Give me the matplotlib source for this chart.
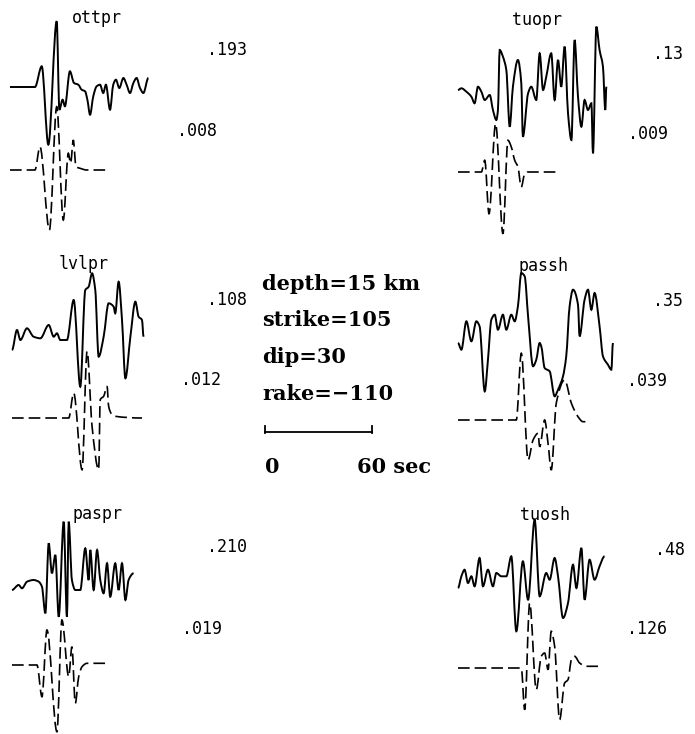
import numpy as np
import matplotlib
matplotlib.use("Agg")
import matplotlib.pyplot as plt
from matplotlib.path import Path
from matplotlib.patches import PathPatch

# waveforms: (time in s from trace start, amplitude, up = +)
ottpr_obs = [(0, 0), (14.0, 0), (17.8, 20.7), (21.5, -57.7), (26.2, 65.7), (27.7, -22.7),
             (29.5, -12.7), (30.8, -19.3), (33.6, 15.7), (35.9, 4), (38.3, 2.3), (40.2, -2.7),
             (42.1, -4.3), (43.4, -12.7), (44.9, -27.7), (46.7, -9.3), (48.6, 0.7), (50.5, 2.3),
             (52.3, -6), (53.8, 2.3), (56.1, -22.7), (57.9, 2.3), (59.4, 7.3), (61.3, -1),
             (63.6, 9), (65.4, 2.3), (67.3, -6), (69.2, 4), (71.0, 9), (72.9, -1), (74.8, -6),
             (77.6, 9)]
ottpr_syn = [(0, 0), (14.0, 0), (16.8, 23.3), (22.1, -60), (26.2, 63.3), (29.9, -50),
             (32.7, 16.7), (34.0, 6.7), (35.5, 30), (37.0, 3.3), (39.3, 1.7), (43.0, 0),
             (55.1, 0)]

tuopr_obs = [(0, 0), (1.9, 1.7), (4.7, -1.7), (7.5, -6.7), (9.3, -13.3), (11.2, 3.3),
             (13.1, -1.7), (15.0, -10), (17.8, -5), (19.6, -20), (21.5, -30), (22.4, -20),
             (23.4, 40), (25.2, 33.3), (27.1, 20), (29.0, -36.7), (30.8, 3.3), (33.6, 30),
             (35.5, 6.7), (36.4, -46.7), (39.3, -3.3), (41.1, 3.3), (43.9, -10), (45.8, 36.7),
             (47.7, 0), (49.5, 13.3), (52.3, 36.7), (54.2, -10), (56.1, 30), (57.9, 3.3),
             (59.8, 43.3), (61.7, -23.3), (63.6, -50), (65.4, 50), (67.3, -6.7), (69.2, -36.7),
             (71.0, -10), (72.9, -20), (74.8, -13.3), (75.7, -63.3), (77.6, 63.3), (79.4, 40),
             (81.3, 23.3), (82.6, -20), (83.2, 3.3)]
tuopr_syn = [(0, 0), (13.1, 0), (15.0, 11.7), (17.4, -41.7), (21.1, 48.3), (25.2, -61.7),
             (28.0, 31.7), (29.9, 25), (31.8, 11.7), (33.6, 5), (35.5, -15), (37.4, -1.7),
             (39.3, 0), (55.1, 0)]

lvlpr_obs = [(0, 0), (2.8, 20), (4.7, 10), (8.4, 21.7), (12.1, 13.3), (15.9, 11.7),
             (20.6, 25), (23.4, 13.3), (25.2, 16.7), (27.1, 10), (30.8, 10), (34.6, 50),
             (38.3, -36.7), (41.1, 60), (43.0, 63.3), (44.9, 76.7), (46.7, 60), (48.6, -6.7),
             (51.4, 13.3), (54.2, 46.7), (57.0, 43.3), (57.9, 36.7), (59.8, 68.3), (61.7, 30),
             (63.6, -28.3), (66.4, 13.3), (69.2, 48.3), (71.0, 33.3), (72.9, 30), (73.8, 13.3)]
lvlpr_syn = [(0, 0), (31.8, 0), (34.6, 25), (39.3, -51.7), (42.1, 66.7), (44.9, -8.3),
             (48.6, -51.7), (49.5, 18.3), (51.4, 21.7), (53.3, 31.7), (54.2, 11.7), (56.1, 3.3),
             (57.9, 1.7), (72.9, 0)]

passh_obs = [(0, 0), (1.9, -6.7), (4.7, 21.7), (7.5, 1.7), (10.3, 21.7), (12.1, 16.7),
             (15.0, -48.3), (16.8, -16.7), (18.7, 23.3), (20.6, 28.3), (22.4, 13.3), (25.2, 28.3),
             (27.1, 13.3), (29.9, 28.3), (31.8, 21.7), (33.6, 36.7), (35.5, 70), (37.4, 66.7),
             (39.3, 26.7), (42.1, -23.3), (43.9, -16.7), (45.8, 0), (46.7, -3.3), (48.6, -25),
             (51.4, -28.3), (54.2, -53.3), (56.1, -46.7), (58.9, -33.3), (60.7, -13.3),
             (62.6, 36.7), (64.5, 53.3), (67.3, 38.3), (68.2, 6.7), (71.0, 43.3), (72.9, 53.3),
             (74.8, 33.3), (76.6, 50), (79.4, 16.7), (81.3, -13.3), (84.1, -21.7), (86.0, -26.7),
             (86.9, 0)]
passh_syn = [(0, 0), (32.7, 0), (35.5, 66.7), (39.3, -40), (42.1, -20), (44.9, -13.3),
             (45.8, -26.7), (48.6, 0), (50.5, -23.3), (52.3, -50), (55.1, 16.7), (59.8, 40),
             (63.6, 16.7), (67.3, 3.3), (70.1, -1.7), (73.8, -1.7)]

paspr_obs = [(0, 0), (3.7, 5), (5.6, 1.7), (8.4, 8.3), (12.1, 10), (15.0, 8.3), (16.8, 3.3),
             (18.7, -23.3), (20.6, 46.7), (22.4, 16.7), (24.3, 35), (26.2, -26.7), (29.0, 68.3),
             (30.8, -26.7), (31.8, 68.3), (33.6, 10), (35.5, 0), (38.3, 0), (41.1, 41.7),
             (43.0, 10), (43.9, 40), (45.8, 0), (47.7, 40), (49.5, 10), (51.4, -3.3),
             (53.3, 26.7), (55.1, -6.7), (57.9, 26.7), (59.8, 0), (61.7, 26.7), (63.6, -10),
             (65.4, 10), (68.2, 16.7)]
paspr_syn = [(0, 0), (14.0, 0), (16.8, -31.7), (19.6, 35), (25.2, -66.7), (28.0, 45),
             (31.8, -11.7), (33.6, 18.3), (35.5, -38.3), (37.4, -11.7), (39.3, -1.7),
             (42.1, 1.7), (54.2, 1.7)]

tuosh_obs = [(0, 0), (1.9, 11.7), (3.7, 18.3), (5.6, 5), (7.5, 11.7), (9.3, 1.7), (12.1, 30),
             (14.0, 1.7), (16.8, 18.3), (19.6, 1.7), (21.5, 15), (24.3, 11.7), (27.1, 11.7),
             (29.9, 31.7), (32.7, -43.3), (36.4, 26.7), (39.3, -11.7), (43.0, 68.3),
             (45.8, -8.3), (49.5, 15), (51.4, 8.3), (54.2, 30), (56.1, 11.7), (58.9, -30),
             (61.7, -15), (64.5, 23.3), (66.4, 0), (69.2, 40), (71.0, -11.7), (73.8, 28.3),
             (76.6, 8.3), (79.4, 21.7), (82.2, 31.7)]
tuosh_syn = [(0, 0), (35.5, 0), (37.4, -41.7), (40.2, 65), (43.9, -21.7), (46.7, 11.7),
             (48.6, 15), (50.5, -1.7), (52.3, 36.7), (54.2, 21.7), (57.0, -51.7), (59.8, -15),
             (61.7, -11.7), (63.6, 8.3), (65.4, 11.7), (68.2, 5), (72.0, 1.7), (78.5, 1.7)]

stations = ["ottpr", "tuopr", "lvlpr", "passh", "paspr", "tuosh"]
obs_amp = [".193", ".13", ".108", ".35", ".210", ".48"]
syn_amp = [".008", ".009", ".012", ".039", ".019", ".126"]
observed = [ottpr_obs, tuopr_obs, lvlpr_obs, passh_obs, paspr_obs, tuosh_obs]
synthetic = [ottpr_syn, tuopr_syn, lvlpr_syn, passh_syn, paspr_syn, tuosh_syn]
params = ["depth=15 km", "strike=105", "dip=30", "rake=\u2212110"]
bar_sec = 60

# layout in pixels (figure is 695 x 734)
px_per_sec = 1.783
x0 = [10, 458, 12, 458, 12, 458]
y_obs = [87, 90, 350, 343, 590, 588]
y_syn = [170, 172, 418, 420, 665, 668]
name_xy = [(97, 18), (537, 20), (84, 264), (544, 266), (97, 514), (545, 515)]
obs_lab_xy = [(207, 50), (653, 54), (207, 300), (653, 301), (207, 547), (655, 550)]
syn_lab_xy = [(177, 131), (628, 134), (181, 380), (627, 381), (182, 629), (627, 629)]


def smooth_path(x, y):
    # smooth pen stroke through the read points, no overshoot (monotone cubic as Bezier)
    x = np.asarray(x, float)
    y = np.asarray(y, float)
    h = np.diff(x)
    s = np.diff(y) / h
    d = np.zeros_like(y)
    for i in range(1, len(y) - 1):
        if s[i - 1] * s[i] > 0:
            w1 = 2 * h[i] + h[i - 1]
            w2 = h[i] + 2 * h[i - 1]
            d[i] = (w1 + w2) / (w1 / s[i - 1] + w2 / s[i])
    verts = [(x[0], y[0])]
    codes = [Path.MOVETO]
    for i in range(len(h)):
        verts += [(x[i] + h[i] / 3, y[i] + d[i] * h[i] / 3),
                  (x[i + 1] - h[i] / 3, y[i + 1] - d[i + 1] * h[i] / 3),
                  (x[i + 1], y[i + 1])]
        codes += [Path.CURVE4] * 3
    return Path(verts, codes)


fig = plt.figure(figsize=(6.95, 7.34), dpi=100)
ax = fig.add_axes([0, 0, 1, 1])
ax.set_xlim(0, 695)
ax.set_ylim(734, 0)
ax.axis("off")

lab_font = dict(family="DejaVu Sans Mono", fontsize=12, color="black")

for i in range(6):
    obs = np.array(observed[i])
    syn = np.array(synthetic[i])
    ax.add_patch(PathPatch(smooth_path(x0[i] + obs[:, 0] * px_per_sec, y_obs[i] - obs[:, 1]),
                           fill=False, edgecolor="black", lw=1.4))
    ax.add_patch(PathPatch(smooth_path(x0[i] + syn[:, 0] * px_per_sec, y_syn[i] - syn[:, 1]),
                           fill=False, edgecolor="black", lw=1.2, linestyle=(0, (7, 3))))
    ax.text(name_xy[i][0], name_xy[i][1], stations[i], ha="center", va="center", **lab_font)
    ax.text(obs_lab_xy[i][0], obs_lab_xy[i][1], obs_amp[i], ha="left", va="center", **lab_font)
    ax.text(syn_lab_xy[i][0], syn_lab_xy[i][1], syn_amp[i], ha="left", va="center", **lab_font)

# source parameters and time scale
par_font = dict(family="DejaVu Serif", fontweight="bold", fontsize=15, color="black")
for j, s in enumerate(params):
    ax.text(262, 284 + j * 36.5, s, ha="left", va="center", **par_font)

bx = 265
bx1 = bx + bar_sec * px_per_sec
ax.plot([bx, bx1], [432, 432], color="black", lw=1.3)
ax.plot([bx, bx], [426, 433], color="black", lw=1.3)
ax.plot([bx1, bx1], [426, 433], color="black", lw=1.3)
ax.text(bx, 467, "0", ha="left", va="center", **par_font)
ax.text(357, 467, "%d sec" % bar_sec, ha="left", va="center", **par_font)

plt.savefig("out.png", dpi=100)
